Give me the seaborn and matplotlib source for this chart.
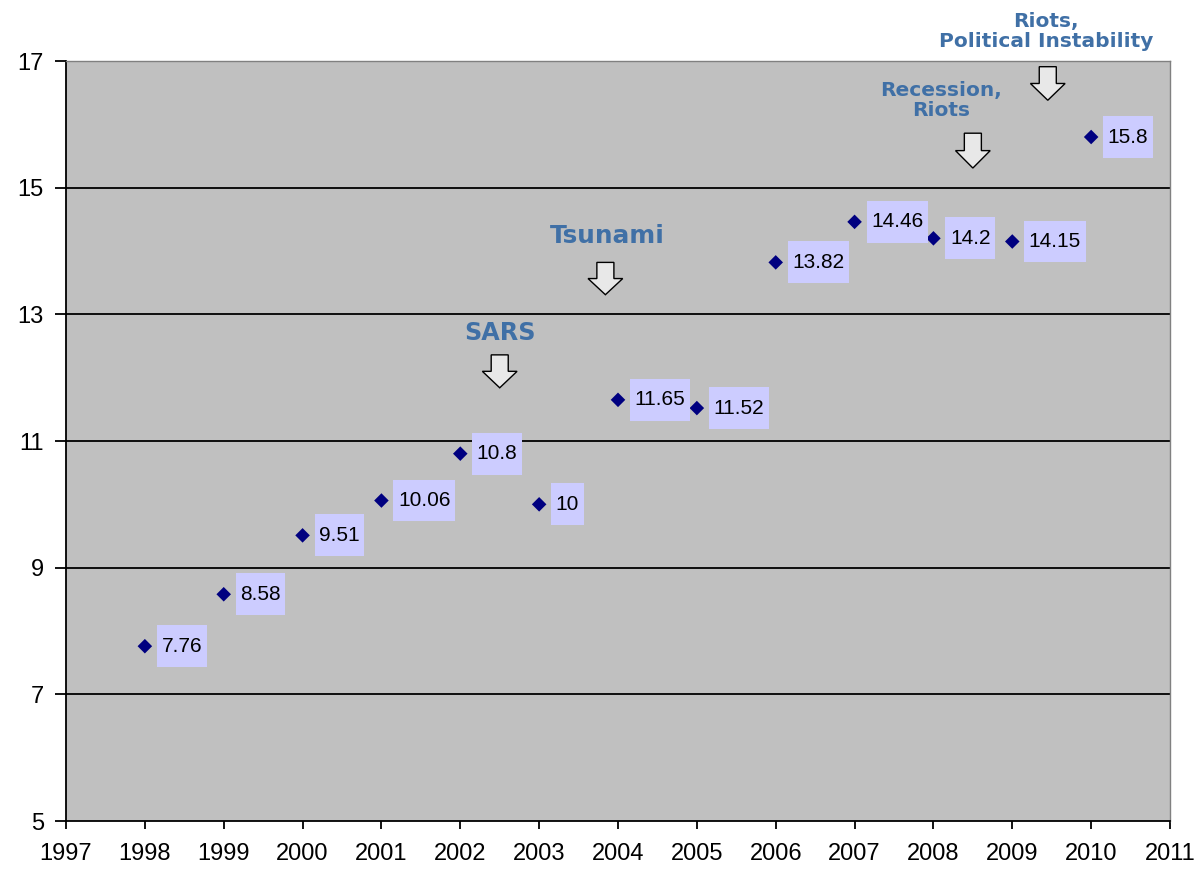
import numpy as np
import pandas as pd
import seaborn as sns
import matplotlib.pyplot as plt
from matplotlib.path import Path
from matplotlib.patches import Polygon

# ---- data ----
years = [1998, 1999, 2000, 2001, 2002, 2003, 2004, 2005, 2006, 2007, 2008, 2009, 2010]
values = [7.76, 8.58, 9.51, 10.06, 10.8, 10.0, 11.65, 11.52, 13.82, 14.46, 14.2, 14.15, 15.8]
labels = ["7.76", "8.58", "9.51", "10.06", "10.8", "10", "11.65", "11.52",
          "13.82", "14.46", "14.2", "14.15", "15.8"]

event_texts = ["SARS", "Tsunami", "Recession,\nRiots", "Riots,\nPolitical Instability"]
event_x = [2002.5, 2003.84, 2008.5, 2009.45]          # arrow centre (year)
event_arrow_top = [12.36, 13.82, 15.86, 16.91]
event_arrow_tip = [11.84, 13.31, 15.31, 16.38]
event_text_x = [2002.5, 2003.86, 2008.1, 2009.43]
event_text_y = [12.70, 14.24, 16.38, 17.46]
event_fontsize = [17.2, 17.8, 14.5, 14.5]

xticks = list(range(1997, 2012))
yticks = list(range(5, 18, 2))

df = pd.DataFrame({"year": years, "value": values})

sns.set_style("white")
plt.rcParams["font.family"] = ["Liberation Sans", "DejaVu Sans"]

fig = plt.figure(figsize=(12.03, 8.76), dpi=100)
W, H = 1203, 876
ax = fig.add_axes([66 / W, 1 - 821 / H, (1170 - 66) / W, (821 - 61) / H])
ax.set_facecolor("#C0C0C0")

ax.set_xlim(1997, 2011)
ax.set_ylim(5, 17)
ax.set_xticks(xticks)
ax.set_yticks(yticks)
ax.set_xticklabels([str(t) for t in xticks])
ax.set_yticklabels([str(t) for t in yticks])

for yv in yticks:
    if 5 < yv < 17:
        ax.axhline(yv, color="black", lw=1.3, zorder=1)

sns.scatterplot(data=df, x="year", y="value", marker="D", s=55, color="#000080",
                edgecolor="none", ax=ax, zorder=4, legend=False)
ax.set_xlabel("")
ax.set_ylabel("")

# custom asymmetric box
def label_box(x0, y0, width, height, mutation_size):
    px = 0.22 * mutation_size
    py = 0.55 * mutation_size
    return Path([(x0 - px, y0 - py), (x0 + width + px, y0 - py),
                 (x0 + width + px, y0 + height + py), (x0 - px, y0 + height + py),
                 (x0 - px, y0 - py)], closed=True)

for xv, yv, lab in zip(years, values, labels):
    ax.annotate(lab, (xv, yv), xytext=(11.9, 0), textcoords="offset points",
                ha="left", va="center", fontsize=15, color="black", zorder=5,
                bbox=dict(boxstyle=label_box, fc="#CCCCFF", ec="none"))

# event arrows and texts
sw, hw = 0.108, 0.22
for txt, cx, yt, yb, tx, ty, fs in zip(event_texts, event_x, event_arrow_top,
                                       event_arrow_tip, event_text_x, event_text_y,
                                       event_fontsize):
    ym = (yt + yb) / 2
    poly = Polygon([(cx - sw, yt), (cx + sw, yt), (cx + sw, ym), (cx + hw, ym),
                    (cx, yb), (cx - hw, ym), (cx - sw, ym)], closed=True,
                   facecolor="#E8E8E8", edgecolor="black", lw=1.0, zorder=3,
                   clip_on=False)
    ax.add_patch(poly)
    ax.text(tx, ty, txt, ha="center", va="center", multialignment="center",
            fontsize=fs, fontweight="bold", color="#4070A6", family="DejaVu Sans",
            linespacing=1.05, zorder=6, clip_on=False)

for s in ["left", "bottom"]:
    ax.spines[s].set_color("black")
    ax.spines[s].set_linewidth(1.3)
for s in ["top", "right"]:
    ax.spines[s].set_color("#808080")
    ax.spines[s].set_linewidth(1.0)

ax.tick_params(axis="x", direction="out", length=6, width=1.3, color="black",
               labelsize=17, pad=10, labelcolor="black")
ax.tick_params(axis="y", direction="out", length=8, width=1.3, color="black",
               labelsize=17, pad=8, labelcolor="black")
ax.tick_params(bottom=True, left=True)

fig.savefig("out.png", dpi=100, facecolor="white")
